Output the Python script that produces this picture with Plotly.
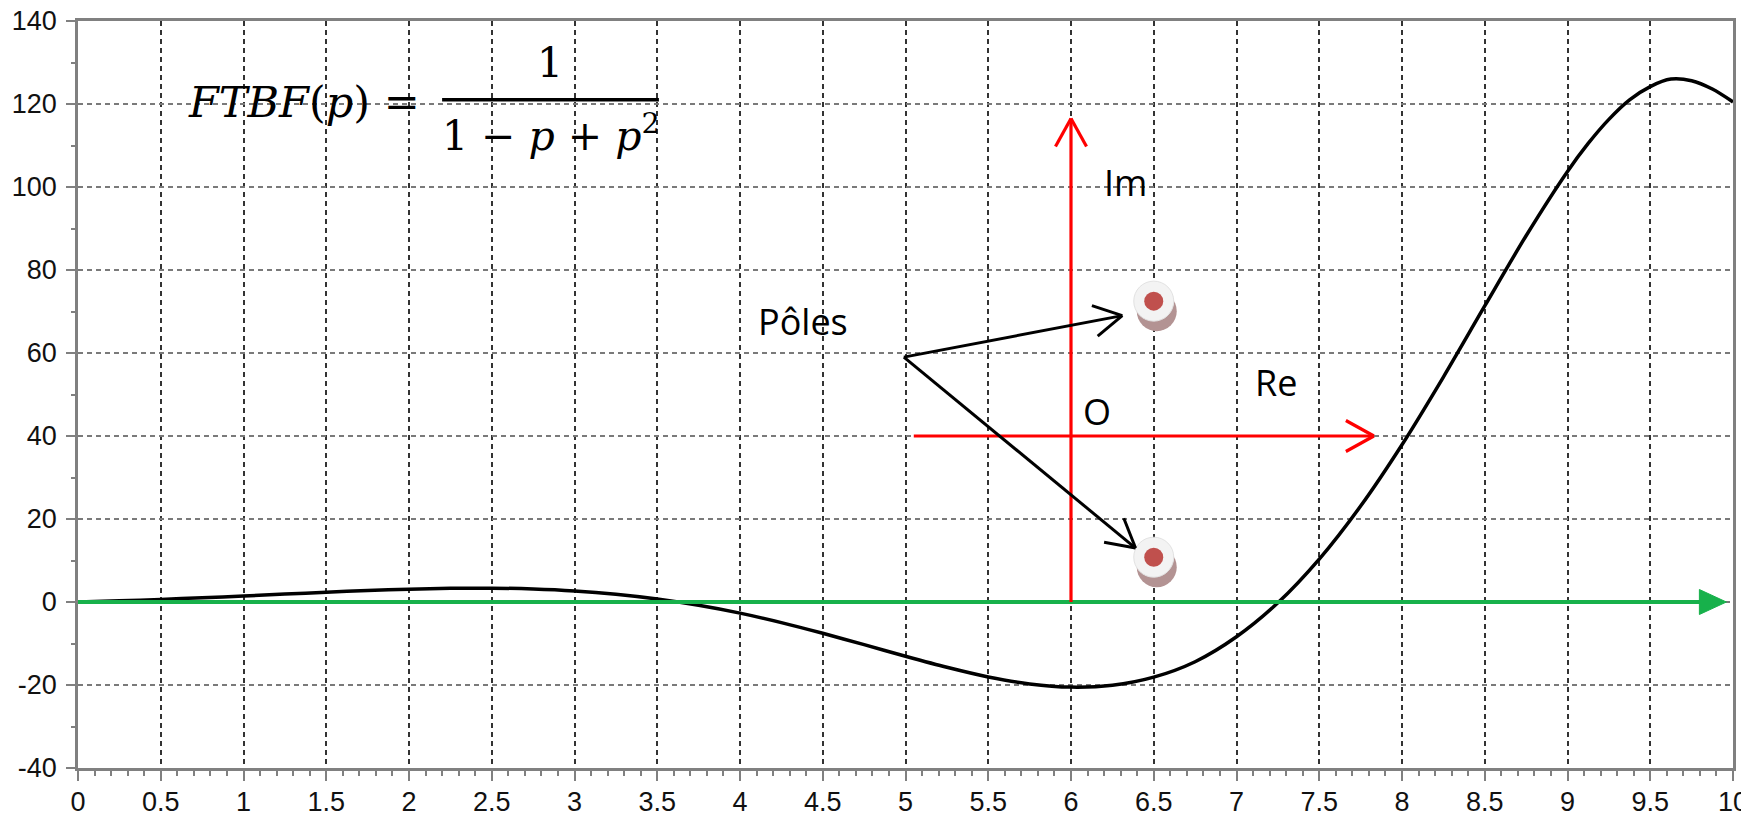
import math
import plotly.graph_objects as go

# ---------------- data ----------------
t_vals = [0, 0.25, 0.5, 0.75, 1, 1.25, 1.5, 1.75, 2, 2.25, 2.5, 2.75, 3, 3.25, 3.5,
          3.75, 4, 4.25, 4.5, 4.75, 5, 5.25, 5.5, 5.75, 6, 6.25, 6.5, 6.75, 7, 7.25,
          7.5, 7.75, 8, 8.25, 8.5, 8.75, 9, 9.125, 9.25, 9.375, 9.5, 9.625, 9.75, 9.875, 10]
response = [0, 0.28, 0.62, 1.02, 1.45, 1.91, 2.36, 2.77, 3.10, 3.31, 3.33, 3.14, 2.67,
            1.88, 0.73, -0.80, -2.69, -4.96, -7.54, -10.28, -13.06, -15.72, -18.05,
            -19.74, -20.51, -20.06, -18.11, -14.39, -8.38, -0.20, 10.33, 23.12, 37.90,
            54.21, 71.33, 88.26, 103.75, 110.5, 116.3, 121.0, 124.2, 126.0, 125.6, 123.6, 120.5]

x_ticks = [0, 0.5, 1, 1.5, 2, 2.5, 3, 3.5, 4, 4.5, 5, 5.5, 6, 6.5, 7, 7.5, 8, 8.5, 9, 9.5, 10]
x_tick_labels = ["0", "0.5", "1", "1.5", "2", "2.5", "3", "3.5", "4", "4.5", "5", "5.5",
                 "6", "6.5", "7", "7.5", "8", "8.5", "9", "9.5", "10"]
y_ticks = [-40, -20, 0, 20, 40, 60, 80, 100, 120, 140]
y_tick_labels = ["-40", "-20", "0", "20", "40", "60", "80", "100", "120", "140"]

# time axis arrow (green)
time_axis_x = [0, 9.9]
time_axis_y = [0, 0]
time_axis_tip = (9.96, 0)

# embedded complex plane sketch
pole_re = [6.5, 6.5]
pole_im = [72.5, 10.8]
red_axes = [((6.0, 0.0), (6.0, 116.5)), ((5.05, 40.0), (7.83, 40.0))]
pole_pointers = [((4.99, 59.0), (6.31, 69.0)), ((4.99, 59.0), (6.39, 13.0))]
labels = [("Pôles", 4.38, 67.7), ("Im", 6.33, 101.0), ("O", 6.16, 46.0), ("Re", 7.24, 52.8)]

# ---------------- layout geometry ----------------
# the page body has an 8px margin, so the figure is sized to fit the window
W, H = 1741, 808
ML, MT = 70, 13
PLOT_W, PLOT_H = 1655, 747
MR = W - ML - PLOT_W
MB = H - MT - PLOT_H
X_RANGE = [0, 10]
Y_RANGE = [-40, 140]
SX = PLOT_W / (X_RANGE[1] - X_RANGE[0])
SY = PLOT_H / (Y_RANGE[1] - Y_RANGE[0])

fig = go.Figure()

shapes = []

# pole shadows (pixel-sized, anchored at the poles)
for px_, py_ in zip(pole_re, pole_im):
    shapes.append(dict(type="circle", xref="x", yref="y", xsizemode="pixel", ysizemode="pixel",
                       xanchor=px_, yanchor=py_, x0=-17, x1=23, y0=-30, y1=10,
                       fillcolor="#b39393", line=dict(width=0), layer="between"))

# response curve
fig.add_trace(go.Scatter(x=t_vals, y=response, mode="lines",
                         line=dict(color="#000000", width=3.5, shape="spline", smoothing=0.8),
                         hoverinfo="skip", showlegend=False))

# green time axis
fig.add_trace(go.Scatter(x=time_axis_x, y=time_axis_y, mode="lines",
                         line=dict(color="#17b14b", width=4), hoverinfo="skip", showlegend=False))
shapes.append(dict(type="path", xref="x", yref="y", xsizemode="pixel", ysizemode="pixel",
                   xanchor=time_axis_tip[0], yanchor=time_axis_tip[1],
                   path="M0,0 L-27,12.5 L-27,-12.5 Z", fillcolor="#17b14b",
                   line=dict(color="#17b14b", width=1)))

# poles markers
fig.add_trace(go.Scatter(x=pole_re, y=pole_im, mode="markers",
                         marker=dict(size=40, color="#f3f3f3", line=dict(color="#e2e2e2", width=1)),
                         hoverinfo="skip", showlegend=False))
fig.add_trace(go.Scatter(x=pole_re, y=pole_im, mode="markers",
                         marker=dict(size=19, color="#c0504d", line=dict(width=0)),
                         hoverinfo="skip", showlegend=False))


def add_arrow(p0, p1, color, width, head_len=32, half_angle=29):
    (x0, y0), (x1, y1) = p0, p1
    shapes.append(dict(type="line", xref="x", yref="y", x0=x0, y0=y0, x1=x1, y1=y1,
                       line=dict(color=color, width=width)))
    dx = (x1 - x0) * SX
    dy = (y1 - y0) * SY
    L = math.hypot(dx, dy)
    rx, ry = -dx / L, -dy / L
    for s in (1, -1):
        a = math.radians(half_angle) * s
        ax = (rx * math.cos(a) - ry * math.sin(a)) * head_len
        ay = (rx * math.sin(a) + ry * math.cos(a)) * head_len
        shapes.append(dict(type="line", xref="x", yref="y", xsizemode="pixel", ysizemode="pixel",
                           xanchor=x1, yanchor=y1, x0=0, x1=ax, y0=0, y1=ay,
                           line=dict(color=color, width=width)))


for a, b in red_axes:
    add_arrow(a, b, "#ff0000", 3.2)
for a, b in pole_pointers:
    add_arrow(a, b, "#000000", 3)

# fraction bar of the formula
shapes.append(dict(type="line", xref="x", yref="y", x0=2.20, x1=3.51, y0=121.0, y1=121.0,
                   line=dict(color="#000000", width=3.5)))

annotations = []
serif = "DejaVu Serif, Liberation Serif, serif"
annotations.append(dict(text="<i>FTBF</i>(<i>p</i>) =", x=2.08, y=120.5, xref="x", yref="y",
                        xanchor="right", yanchor="middle", showarrow=False,
                        font=dict(family=serif, size=43, color="#000")))
annotations.append(dict(text="1", x=2.85, y=129.8, xref="x", yref="y",
                        xanchor="center", yanchor="middle", showarrow=False,
                        font=dict(family=serif, size=41, color="#000")))
annotations.append(dict(text="1 − <i>p</i> + <i>p</i><sup>2</sup>", x=2.86, y=113.0,
                        xref="x", yref="y", xanchor="center", yanchor="middle", showarrow=False,
                        font=dict(family=serif, size=41, color="#000")))
for txt, lx, ly in labels:
    annotations.append(dict(text=txt, x=lx, y=ly, xref="x", yref="y", xanchor="center",
                            yanchor="middle", showarrow=False,
                            font=dict(family="Open Sans, Noto Sans, sans-serif", size=36, color="#000")))

tick_font = dict(family="Liberation Sans, Arial, sans-serif", size=27, color="#111111")

fig.update_layout(
    width=W, height=H, autosize=False,
    margin=dict(l=ML, r=MR, t=MT, b=MB, pad=0, autoexpand=False),
    paper_bgcolor="#ffffff", plot_bgcolor="#ffffff",
    showlegend=False,
    shapes=shapes, annotations=annotations,
    xaxis=dict(range=X_RANGE, tickmode="array", tickvals=x_ticks, ticktext=x_tick_labels,
               automargin=False, ticklabeloverflow="allow",
               showgrid=True, gridcolor="#333333", gridwidth=1.5, griddash="5px,4px",
               zeroline=False, showline=True, linecolor="#808080", linewidth=2.5, mirror=True,
               ticks="outside", ticklen=10, tickwidth=2, tickcolor="#808080",
               ticklabelstandoff=-2, tickfont=tick_font,
               minor=dict(dtick=0.1, tick0=0, ticks="outside", ticklen=5, tickwidth=1.5,
                          tickcolor="#808080", showgrid=False)),
    yaxis=dict(range=Y_RANGE, tickmode="array", tickvals=y_ticks, ticktext=y_tick_labels,
               automargin=False, ticklabeloverflow="allow",
               showgrid=True, gridcolor="#7a7a7a", gridwidth=1.5, griddash="5px,4px",
               zeroline=False, showline=True, linecolor="#808080", linewidth=2.5, mirror=True,
               ticks="outside", ticklen=9, tickwidth=2, tickcolor="#808080",
               ticklabelstandoff=4, tickfont=tick_font,
               minor=dict(dtick=10, tick0=0, ticks="outside", ticklen=4, tickwidth=1.5,
                          tickcolor="#808080", showgrid=False)),
)

fig.write_html("out.html")
